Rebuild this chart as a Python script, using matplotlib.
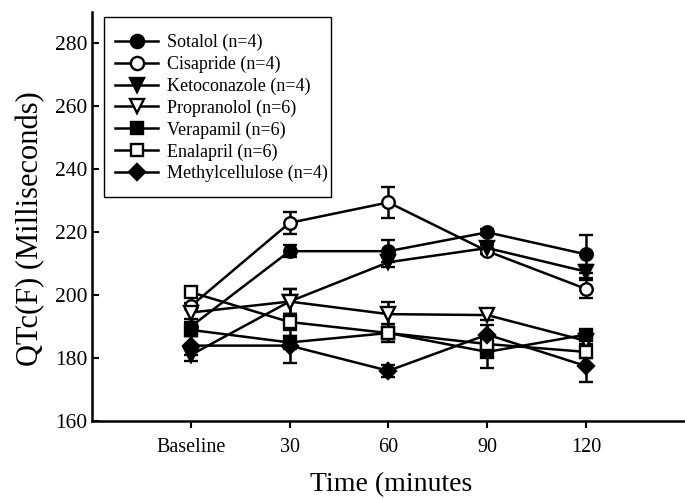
import matplotlib
matplotlib.use("Agg")
import matplotlib.pyplot as plt
from matplotlib.lines import Line2D
from matplotlib.patches import Rectangle
import numpy as np

plt.rcParams['font.family'] = ['Liberation Serif', 'DejaVu Serif']

tick_labels = ["Baseline", "30", "60", "90", "120"]
x = np.arange(len(tick_labels))

names = ["Sotalol (n=4)", "Cisapride (n=4)", "Ketoconazole (n=4)", "Propranolol (n=6)",
         "Verapamil (n=6)", "Enalapril (n=6)", "Methylcellulose (n=4)"]

sotalol = [190, 214, 214, 220, 213]
sotalol_err = [1.5, 2, 3.5, 1, 6]
cisapride = [196.5, 223, 229.5, 214, 202]
cisapride_err = [1, 3.5, 5, 1, 3]
ketoconazole = [181, 198, 210.5, 215, 207.5]
ketoconazole_err = [2, 4, 1.5, 1, 2]
propranolol = [194.5, 198, 194, 193.7, 185.5]
propranolol_err = [2, 4, 4, 1.5, 1]
verapamil = [189, 185, 188, 182, 187.5]
verapamil_err = [2, 2, 2, 5, 1.5]
enalapril = [201, 191.5, 188, 184.5, 182]
enalapril_err = [1, 2.5, 3, 2, 2]
methylcellulose = [184, 184, 176, 187.5, 177.5]
methylcellulose_err = [3, 5.5, 2, 3, 5]

series = [sotalol, cisapride, ketoconazole, propranolol, verapamil, enalapril, methylcellulose]
errs = [sotalol_err, cisapride_err, ketoconazole_err, propranolol_err, verapamil_err,
        enalapril_err, methylcellulose_err]
markers = ['o', 'o', 'v', 'v', 's', 's', 'D']
fills = ['black', 'white', 'black', 'white', 'black', 'white', 'black']
msizes = [9, 9, 9.5, 9.5, 8, 8, 8]

fig = plt.figure(figsize=(6.85, 4.99), dpi=100)
ax = fig.add_axes([0.134, 0.156, 0.866, 0.82])

for vals, err, m, fc, ms, name in zip(series, errs, markers, fills, msizes, names):
    ax.errorbar(x, vals, yerr=err, color='black', marker=m, markerfacecolor=fc,
                markeredgecolor='black', markeredgewidth=1.7, markersize=ms,
                linewidth=1.8, elinewidth=1.8, capsize=5, capthick=1.8, label=name)

ax.set_xlim(-1, 5)
ax.set_ylim(160, 290)
ax.set_yticks([160, 180, 200, 220, 240, 260, 280])
ax.set_xticks(x)
ax.set_xticklabels(tick_labels)
ax.spines['top'].set_visible(False)
ax.spines['right'].set_visible(False)
ax.spines['left'].set_linewidth(1.8)
ax.spines['bottom'].set_linewidth(1.8)
ax.tick_params(axis='y', direction='in', length=5, width=1.5, labelsize=15.5, pad=3)
ax.tick_params(axis='x', direction='out', length=5, width=1.5, labelsize=14.5, pad=7)

ax.set_ylabel("QTc(F) (Milliseconds)", fontsize=22)
ax.yaxis.set_label_coords(-0.079, 0.47)
ax.set_xlabel("Time (minutes", fontsize=20)
ax.xaxis.set_label_coords(0.505, -0.125)

handles = [Line2D([0], [0], color='black', marker=m, markerfacecolor=fc,
                  markeredgecolor='black', markeredgewidth=1.7, markersize=ms + 0.5,
                  linewidth=1.8)
           for m, fc, ms in zip(markers, fills, msizes)]
leg = ax.legend(handles, names, loc='upper left', bbox_to_anchor=(0.039, 0.946),
                fontsize=13, frameon=False, handlelength=2.4, handletextpad=0.5,
                labelspacing=0.25, borderpad=0.0, borderaxespad=0)

# legend frame drawn as a plain box (in figure pixel fractions)
W, H = 685.0, 499.0
fig.patches.append(Rectangle((104 / W, 1 - 197 / H), (331 - 104) / W, (197 - 17) / H,
                             transform=fig.transFigure, fill=False, edgecolor='black',
                             linewidth=1.0, zorder=5))

fig.savefig("out.png", dpi=100)
